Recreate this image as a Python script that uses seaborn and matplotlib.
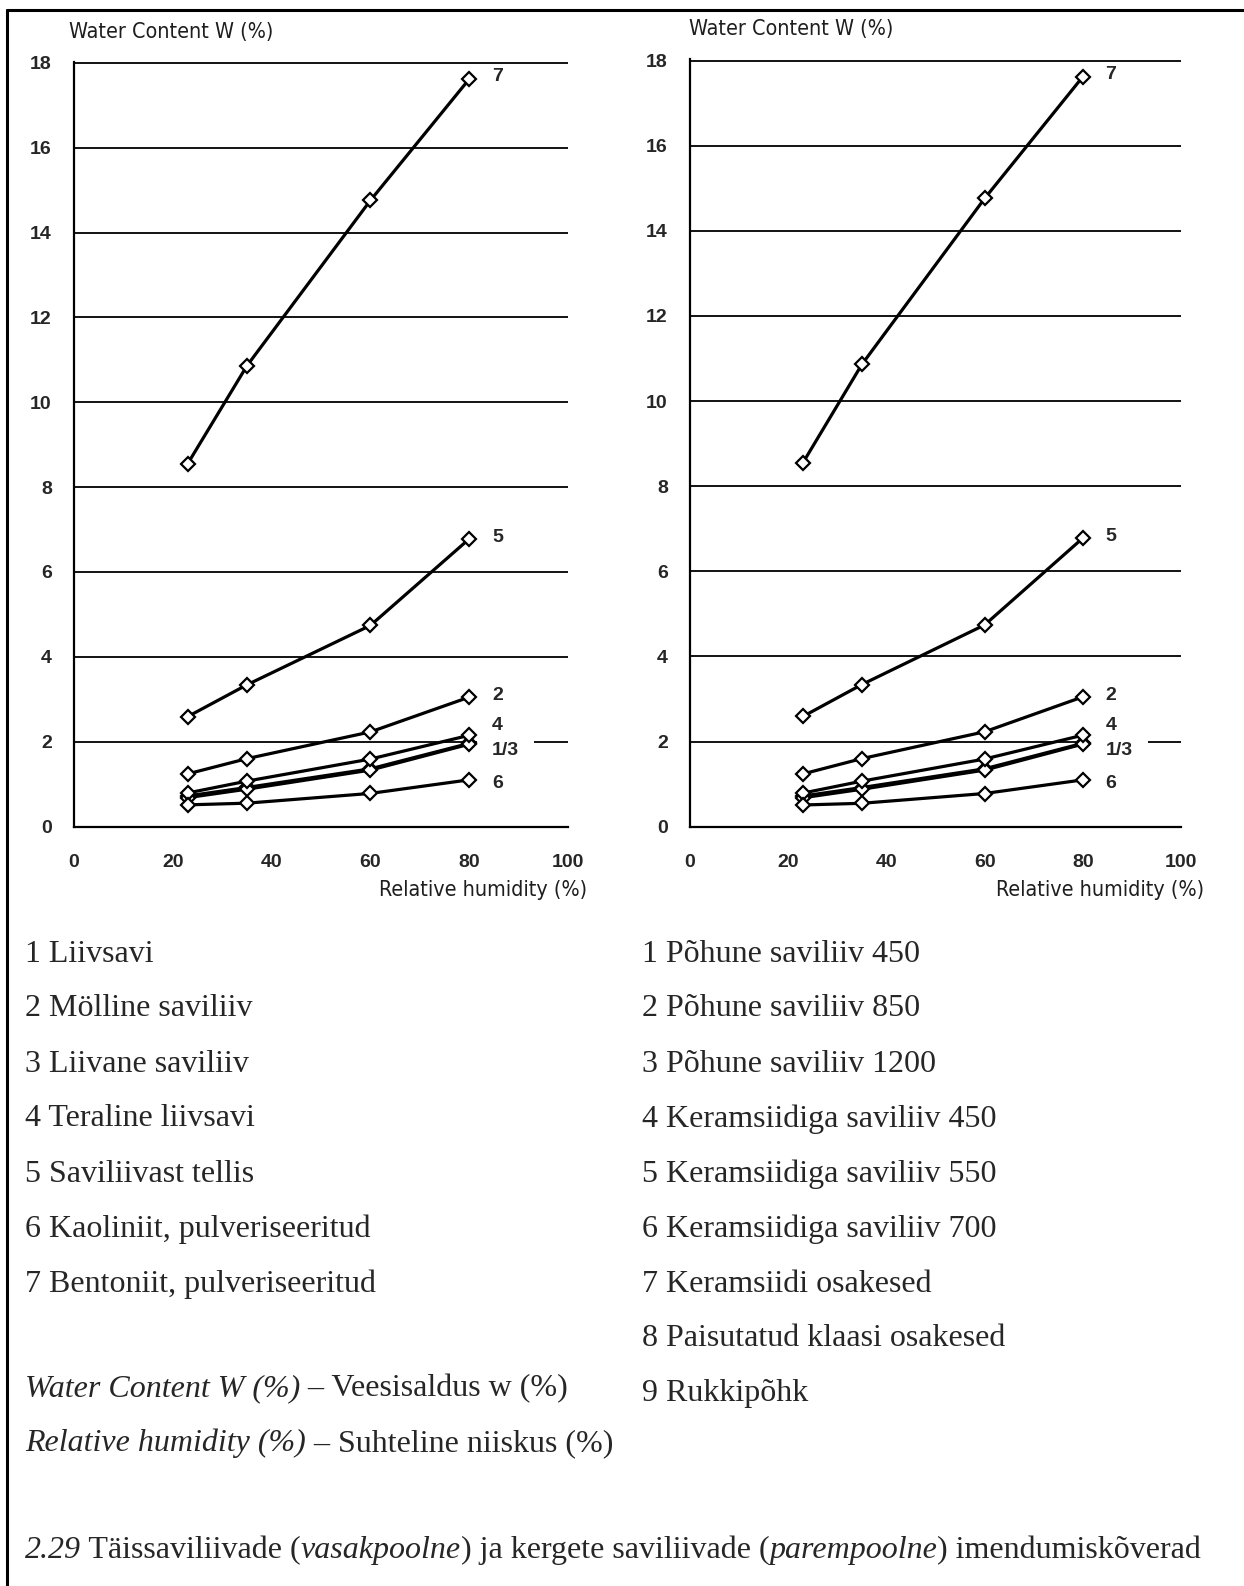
import seaborn as sns
import matplotlib.pyplot as plt
from matplotlib.lines import Line2D
from matplotlib import font_manager

# Absorption curves: water content (%) vs relative humidity (%)
rh = [23, 35, 60, 80]
w1 = [0.72, 0.92, 1.36, 1.96]
w2 = [1.24, 1.60, 2.23, 3.05]
w3 = [0.68, 0.88, 1.33, 1.94]
w4 = [0.79, 1.07, 1.59, 2.15]
w5 = [2.59, 3.34, 4.74, 6.78]
w6 = [0.51, 0.55, 0.78, 1.10]
w7 = [8.55, 10.86, 14.76, 17.62]

series = [w1, w2, w3, w4, w5, w6, w7]
end_labels = ["7", "5", "2", "4", "1/3", "6"]
end_label_y = [17.68, 6.82, 3.08, 2.38, 1.78, 1.02]

left_names = ["1 Liivsavi", "2 Mölline saviliiv", "3 Liivane saviliiv",
              "4 Teraline liivsavi", "5 Saviliivast tellis",
              "6 Kaoliniit, pulveriseeritud", "7 Bentoniit, pulveriseeritud"]
right_names = ["1 Põhune saviliiv 450", "2 Põhune saviliiv 850",
               "3 Põhune saviliiv 1200", "4 Keramsiidiga saviliiv 450",
               "5 Keramsiidiga saviliiv 550", "6 Keramsiidiga saviliiv 700",
               "7 Keramsiidi osakesed", "8 Paisutatud klaasi osakesed",
               "9 Rukkipõhk"]

sns.set_style("white")
plt.rcParams["font.family"] = ["Liberation Sans", "DejaVu Sans"]

# narrow sans for the axis titles, if one is installed
installed = {f.name for f in font_manager.fontManager.ttflist}
if "Liberation Sans Narrow" in installed:
    cond = dict(family="Liberation Sans Narrow", fontsize=17.5)
elif "DejaVu Sans Condensed" in installed:
    cond = dict(family="DejaVu Sans Condensed", fontsize=16.4)
else:
    cond = dict(family="DejaVu Sans", fontstretch="condensed", fontsize=15.4)

W, H = 1244, 1586
fig = plt.figure(figsize=(W / 100, H / 100), dpi=100)


def panel(ax, ylab_dx, xlab_dx):
    for vals in series:
        sns.lineplot(x=rh, y=vals, ax=ax, color="black", linewidth=2.3,
                     marker="D", markersize=7, markerfacecolor="white",
                     markeredgecolor="black", markeredgewidth=1.6, zorder=4)
    ax.set_xlim(0, 100)
    ax.set_ylim(0, 18.03)
    ax.set_xticks(range(0, 101, 20))
    ax.set_xticks(range(10, 100, 20), minor=True)
    ax.set_yticks(range(0, 19, 2))
    ax.yaxis.grid(True, color="black", linewidth=1.3)
    ax.set_axisbelow(True)
    for s in ["top", "right"]:
        ax.spines[s].set_visible(False)
    for s in ["left", "bottom"]:
        ax.spines[s].set_color("black")
        ax.spines[s].set_linewidth(1.6)
    ax.tick_params(axis="x", which="both", direction="out", length=7,
                   width=1.3, color="black", pad=13, labelsize=14)
    ax.tick_params(axis="y", direction="out", length=9, width=1.3,
                   color="black", pad=7, labelsize=14)
    plt.setp(ax.get_xticklabels() + ax.get_yticklabels(), fontweight="bold")
    ax.set_xlabel("")
    ax.set_ylabel("")
    for lab, yv in zip(end_labels, end_label_y):
        if lab == "1/3":
            ax.text(84.6, yv, lab, fontsize=14, fontweight="bold",
                    ha="left", va="center", zorder=3,
                    bbox=dict(facecolor="white", edgecolor="none", pad=11))
        else:
            ax.text(84.6, yv, lab, fontsize=14, fontweight="bold",
                    ha="left", va="center", zorder=5)
    ax.text(ylab_dx, 1.039, "Water Content W (%)", transform=ax.transAxes,
            color="#1e1e1e", ha="left", va="center", **cond)
    ax.text(xlab_dx, -0.083, "Relative humidity (%)", transform=ax.transAxes,
            color="#1e1e1e", ha="right", va="center", **cond)


axL = fig.add_axes([74 / W, (H - 826.5) / H, 494 / W, (826.5 - 61.7) / H])
axR = fig.add_axes([690 / W, (H - 826.7) / H, 491 / W, (826.7 - 59.3) / H])
panel(axL, -0.01, 1.038)
panel(axR, -0.002, 1.047)

# frame (left and top edges)
fig.add_artist(Line2D([7 / W, 7 / W], [0, 1 - 10 / H], color="black",
                      linewidth=2.2, transform=fig.transFigure))
fig.add_artist(Line2D([7 / W, 1], [1 - 10 / H, 1 - 10 / H], color="black",
                      linewidth=2.2, transform=fig.transFigure))

serif = "Liberation Serif"
fs = 23
row_y = [954, 1009, 1064, 1119, 1174, 1229, 1284, 1339, 1394, 1449]

for i, name in enumerate(left_names):
    fig.text(25 / W, 1 - row_y[i] / H, name, fontsize=fs, family=serif,
             ha="left", va="center")
for i, name in enumerate(right_names):
    fig.text(642 / W, 1 - row_y[i] / H, name, fontsize=fs, family=serif,
             ha="left", va="center")


def chain(x, y, parts):
    renderer = fig.canvas.get_renderer()
    cur_x = x
    for txt, ital in parts:
        style = "italic" if ital else "normal"
        t = fig.text(cur_x / W, 1 - y / H, txt, fontsize=fs, family=serif,
                     style=style, ha="left", va="baseline")
        bb = t.get_window_extent(renderer)
        cur_x = bb.x1


chain(25, 1396, [("Water Content W (%)", True), (" – Veesisaldus w (%)", False)])
chain(25, 1451, [("Relative humidity (%)", True), (" – Suhteline niiskus (%)", False)])
chain(25, 1558, [("2.29", True), (" Täissaviliivade (", False),
                 ("vasakpoolne", True), (") ja kergete saviliivade (", False),
                 ("parempoolne", True), (") imendumiskõverad", False)])

plt.savefig("out.png", dpi=100)
plt.close()
